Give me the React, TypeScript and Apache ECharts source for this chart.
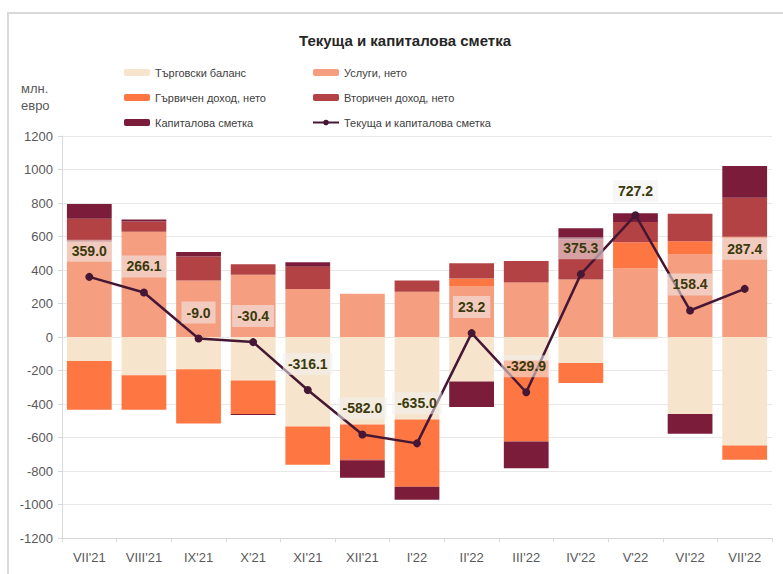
import React, { useEffect, useRef } from "react";
import * as echarts from "echarts";

const categories = ["VII'21", "VIII'21", "IX'21", "X'21", "XI'21", "XII'21", "I'22", "II'22", "III'22", "IV'22", "V'22", "VI'22", "VII'22"];
const tradeBalance = [-143, -229, -192, -259, -535, -523, -493, -266, -140, -155, -12, -459, -648];
const servicesNet = [569, 628, 338, 371, 286, 258, 270, 304, 325, 344, 409, 492, 598];
const primaryIncome = [-292, -206, -324, -201, -228, -208, -401, 45, -484, -119, 157, 79, -85];
const secondaryIncome = [137, 61, 143, 64, 133, -10, 67, 92, 128, 239, 121, 165, 234];
const capitalAccount = [88, 12, 26, -5, 28, -99, -78, -152, -159, 66, 52, -119, 189];
const currentAndCapital = [359.0, 266.1, -9.0, -30.4, -316.1, -582.0, -635.0, 23.2, -329.9, 375.3, 727.2, 158.4, 287.4];
const yTicks = { min: -1200, max: 1200, interval: 200 };

const FONT = "'Liberation Sans', Arial, sans-serif";

const names = {
  trade: "Търговски баланс",
  services: "Услуги, нето",
  primary: "Гървичен доход, нето",
  secondary: "Вторичен доход, нето",
  capital: "Капиталова сметка",
  line: "Текуща и капиталова сметка",
};

export default function App() {
  const ref = useRef<HTMLDivElement>(null);
  useEffect(() => {
    if (!ref.current) return;
    const chart = echarts.init(ref.current, undefined, { renderer: "svg" });
    const bar = (name: string, data: number[], color: string) => ({
      name,
      type: "bar",
      stack: "total",
      data,
      barCategoryGap: "18%",
      itemStyle: { color },
      emphasis: { disabled: true },
    });
    const extraOffset: Record<number, number[]> = { 6: [0, -14], 12: [0, -14], 10: [0, 2] };
    const legendText = { fontFamily: FONT, fontSize: 11, color: "#404040" };
    chart.setOption({
      animation: false,
      textStyle: { fontFamily: FONT },
      title: {
        text: "Текуща и капиталова сметка",
        left: 400,
        textAlign: "center",
        top: 28,
        textStyle: { fontFamily: FONT, fontSize: 15, fontWeight: "bold", color: "#262626" },
      },
      legend: [
        {
          data: [names.trade, names.primary, names.capital],
          orient: "vertical",
          left: 119,
          top: 62,
          itemWidth: 26,
          itemHeight: 7,
          itemGap: 14,
          textStyle: legendText,
        },
        {
          data: [names.services, names.secondary, names.line],
          orient: "vertical",
          left: 307,
          top: 62,
          itemWidth: 26,
          itemHeight: 7,
          itemGap: 14,
          textStyle: legendText,
        },
      ],
      graphic: [
        { type: "line", shape: { x1: 7, y1: 13, x2: 783, y2: 13 }, style: { stroke: "#d9d9d9", lineWidth: 2 } },
        { type: "line", shape: { x1: 8, y1: 13, x2: 8, y2: 574 }, style: { stroke: "#d9d9d9", lineWidth: 2 } },
        {
          type: "text",
          left: 21,
          top: 80,
          style: { text: "млн.\nевро", fontFamily: FONT, fontSize: 13, fill: "#595959", lineHeight: 17 },
        },
      ],
      grid: { left: 62, right: 11, top: 136, bottom: 36 },
      xAxis: [
        {
          type: "category",
          data: categories,
          axisLine: { show: false },
          axisTick: { show: false },
          axisLabel: { color: "#595959", fontSize: 13, fontFamily: FONT, margin: 13 },
        },
        {
          type: "category",
          data: categories,
          position: "bottom",
          axisLine: { show: true, onZero: true, lineStyle: { color: "#d9d9d9" } },
          axisTick: { show: true, length: 4, lineStyle: { color: "#d9d9d9" } },
          axisLabel: { show: false },
        },
      ],
      yAxis: {
        type: "value",
        min: yTicks.min,
        max: yTicks.max,
        interval: yTicks.interval,
        axisLine: { show: true, lineStyle: { color: "#d9d9d9" } },
        axisTick: { show: true, length: 4, lineStyle: { color: "#d9d9d9" } },
        axisLabel: {
          color: "#595959",
          fontSize: 13,
          fontFamily: FONT,
          margin: 9,
          formatter: (v: number) => String(v),
        },
        splitLine: { lineStyle: { color: "#e8e8e8" } },
      },
      series: [
        bar(names.trade, tradeBalance, "#F6E5CC"),
        bar(names.services, servicesNet, "#F59E80"),
        bar(names.primary, primaryIncome, "#FE7743"),
        bar(names.secondary, secondaryIncome, "#B34245"),
        bar(names.capital, capitalAccount, "#7B1C3A"),
        {
          name: names.line,
          type: "line",
          data: currentAndCapital.map((v, i) => ({
            value: v,
            label: extraOffset[i] ? { offset: extraOffset[i] } : undefined,
          })),
          symbol: "circle",
          symbolSize: 8,
          lineStyle: { color: "#451734", width: 2.5 },
          itemStyle: { color: "#451734" },
          z: 5,
          label: {
            show: true,
            position: "top",
            distance: 11,
            formatter: (p: any) => Number(p.value).toFixed(1),
            fontFamily: FONT,
            fontSize: 14,
            fontWeight: "bold",
            color: "#3a3a0c",
            backgroundColor: "rgba(240,240,240,0.55)",
            padding: [4, 5],
          },
          emphasis: { disabled: true },
        },
      ],
    });
    return () => chart.dispose();
  }, []);
  return <div ref={ref} style={{ position: "absolute", left: 0, top: 0, width: 783, height: 574 }} />;
}
